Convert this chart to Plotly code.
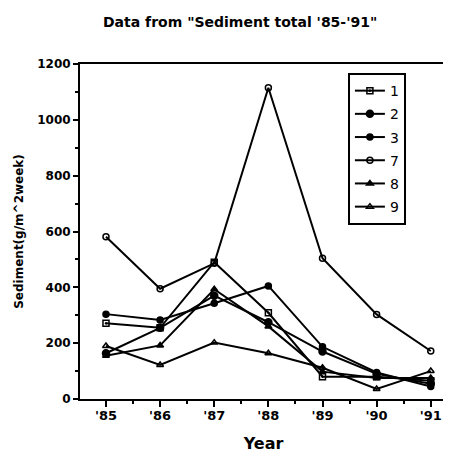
import plotly.graph_objects as go

years = ["'85", "'86", "'87", "'88", "'89", "'90", "'91"]
x_pos = [0, 1, 2, 3, 4, 5, 6]

s1 = [271, 255, 490, 309, 80, 80, 65]
s2 = [164, 255, 370, 275, 170, 90, 55]
s3 = [304, 283, 343, 405, 187, 95, 45]
s7 = [581, 395, 486, 1115, 504, 303, 172]
s8 = [155, 192, 393, 260, 98, 75, 75]
s9 = [190, 122, 202, 164, 112, 36, 100]

series = [
    ("1", s1, "square-open-dot", 6),
    ("2", s2, "circle", 7),
    ("3", s3, "circle", 6),
    ("7", s7, "circle-open", 6),
    ("8", s8, "triangle-up", 6),
    ("9", s9, "triangle-up-open", 6),
]

FONT = "DejaVu Sans"

fig = go.Figure()
for name, vals, sym, sz in series:
    fig.add_trace(go.Scatter(
        x=x_pos, y=vals, name=name, mode="lines+markers",
        line=dict(color="black", width=2),
        marker=dict(symbol=sym, size=sz, color="black",
                    line=dict(color="black", width=1.5)),
        legendgroup=name,
    ))

fig.update_layout(
    width=443, height=447,
    margin=dict(l=72, r=4, t=56, b=56),
    paper_bgcolor="white", plot_bgcolor="white",
    font=dict(family=FONT, color="black", size=13),
    title=dict(text="<b>Data from \"Sediment total '85-'91\"</b>",
               xref="container", x=0.524, xanchor="center",
               yref="container", y=0.969, yanchor="middle",
               font=dict(family=FONT, size=14, color="black")),
    showlegend=True,
    legend=dict(x=0.73, xanchor="left", y=0.973, yanchor="top",
                bgcolor="white", bordercolor="black", borderwidth=2,
                font=dict(family=FONT, size=14, color="black"),
                tracegroupgap=2, entrywidth=88, entrywidthmode="pixels"),
)

fig.update_xaxes(
    range=[-0.48, 6.3], tickmode="array", tickvals=x_pos,
    ticktext=["<b>%s</b>" % t for t in years],
    showline=True, linecolor="black", linewidth=2, mirror=True,
    ticks="outside", ticklen=6, tickwidth=1.5, tickcolor="black",
    minor=dict(tickmode="array", tickvals=[0.5, 1.5, 2.5, 3.5, 4.5, 5.5],
               ticks="outside", ticklen=3, tickwidth=1.5, tickcolor="black"),
    showgrid=False, zeroline=False, automargin=False,
    ticklabelstandoff=-3,
    title=dict(text="<b>Year</b>", font=dict(family=FONT, size=16), standoff=16),
    tickfont=dict(family=FONT, size=13),
)
fig.update_yaxes(
    range=[0, 1200],
    tickvals=[0, 200, 400, 600, 800, 1000, 1200],
    ticktext=["<b>%d</b>" % v for v in [0, 200, 400, 600, 800, 1000, 1200]],
    showline=True, linecolor="black", linewidth=2,
    ticks="outside", ticklen=5, tickwidth=1.5, tickcolor="black",
    minor=dict(tickmode="array", tickvals=[100, 300, 500, 700, 900, 1100],
               ticks="outside", ticklen=3, tickwidth=1.5, tickcolor="black"),
    showgrid=False, zeroline=False, automargin=False,
    title=dict(text="<b>Sediment(g/m^2week)</b>", font=dict(family=FONT, size=12), standoff=11),
    tickfont=dict(family=FONT, size=12),
)

fig.write_html("out.html")
